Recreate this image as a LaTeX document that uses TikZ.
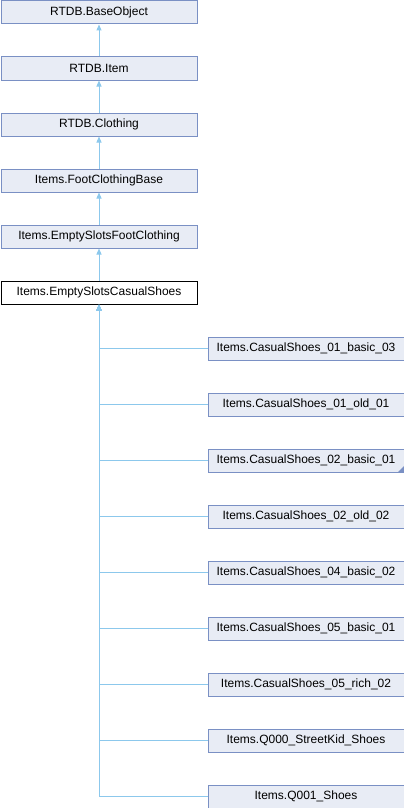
\documentclass[tikz,border=0pt]{standalone}
\usepackage{fontspec}
\setmainfont{Liberation Sans}
\usetikzlibrary{arrows.meta}
\definecolor{boxfill}{HTML}{E8ECF5}
\definecolor{boxline}{HTML}{7A90C4}
\definecolor{conn}{HTML}{8CC8EC}
\tikzset{
  cls/.style={draw=boxline, fill=boxfill, line width=1pt, minimum width=196pt, minimum height=23pt, inner sep=0pt, anchor=north west, font=\fontsize{12}{13}\selectfont},
  cur/.style={cls, draw=black, fill=white},
  inh/.style={draw=conn, line width=1pt, {Triangle[length=6pt,width=5pt]}-}
}
\begin{document}
\begin{tikzpicture}[x=1pt,y=-1pt]
\useasboundingbox (0,0) rectangle (404,808);
\node[cls] (a) at (0.5,0.5) {RTDB.BaseObject};
\node[cls] (b) at (0.5,56.5) {RTDB.Item};
\node[cls] (c) at (0.5,112.5) {RTDB.Clothing};
\node[cls] (d) at (0.5,168.5) {Items.FootClothingBase};
\node[cls] (e) at (0.5,224.5) {Items.EmptySlotsFootClothing};
\node[cur] (f) at (0.5,280.5) {Items.EmptySlotsCasualShoes};
\node[cls] (r1) at (207.5,336.5) {Items.CasualShoes\_01\_basic\_03};
\node[cls] (r2) at (207.5,392.5) {Items.CasualShoes\_01\_old\_01};
\node[cls] (r3) at (207.5,448.5) {Items.CasualShoes\_02\_basic\_01};
\node[cls] (r4) at (207.5,504.5) {Items.CasualShoes\_02\_old\_02};
\node[cls] (r5) at (207.5,560.5) {Items.CasualShoes\_04\_basic\_02};
\node[cls] (r6) at (207.5,616.5) {Items.CasualShoes\_05\_basic\_01};
\node[cls] (r7) at (207.5,672.5) {Items.CasualShoes\_05\_rich\_02};
\node[cls] (r8) at (207.5,728.5) {Items.Q000\_StreetKid\_Shoes};
\node[cls] (r9) at (207.5,784.5) {Items.Q001\_Shoes};
\fill[boxline] ([xshift=-0.5pt,yshift=0.5pt]r3.south east) -- ++(-6,0) -- ++(6,-6) -- cycle;
\draw[inh] (a.south) -- (b.north);
\draw[inh] (b.south) -- (c.north);
\draw[inh] (c.south) -- (d.north);
\draw[inh] (d.south) -- (e.north);
\draw[inh] (e.south) -- (f.north);
\foreach \r in {r1,r2,r3,r4,r5,r6,r7,r8,r9}{
  \draw[inh] (f.south) |- (\r.west);
}
\end{tikzpicture}
\end{document}
